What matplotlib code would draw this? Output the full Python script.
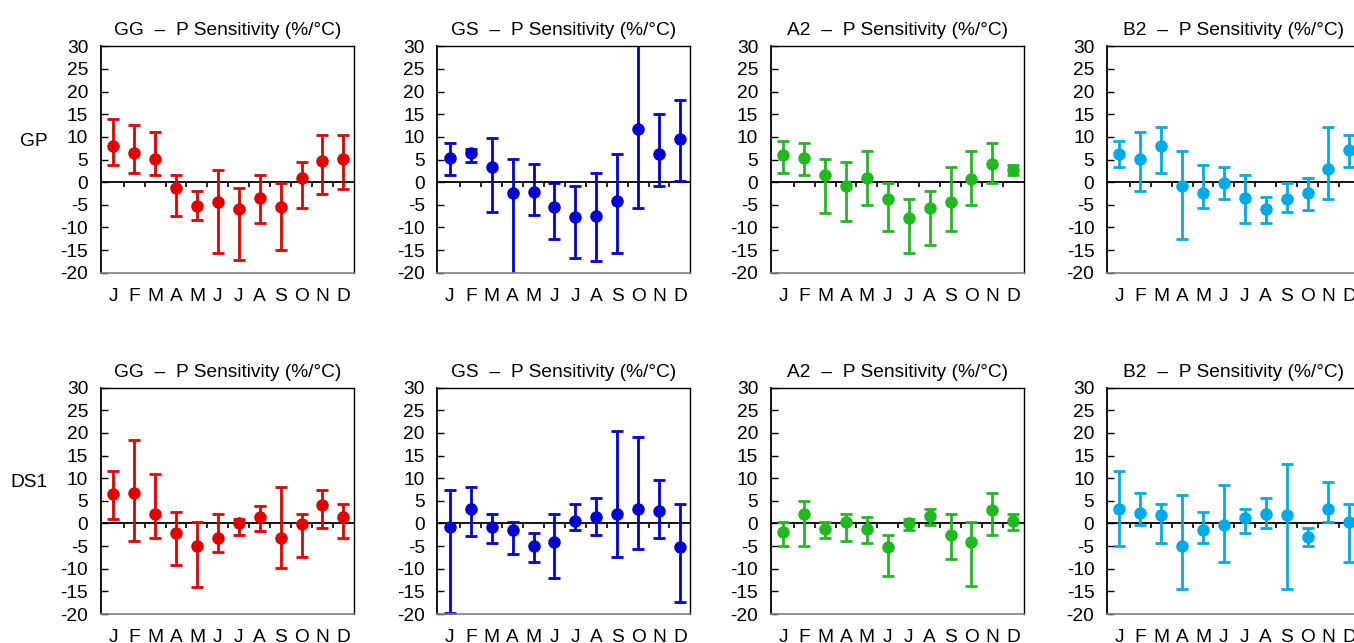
import numpy as np
import matplotlib
matplotlib.use("Agg")
import matplotlib.pyplot as plt

plt.rcParams['font.family'] = ['Liberation Sans', 'DejaVu Sans']
plt.rcParams['axes.unicode_minus'] = False

months = ["J", "F", "M", "A", "M", "J", "J", "A", "S", "O", "N", "D"]
models = ["GG", "GS", "A2", "B2"]
rows = ["GP", "DS1"]
colors = ["#e00000", "#0000d0", "#22b822", "#00aae6"]

# GP row: value, upper, lower
gp_gg_val = [8.0, 6.5, 5.1, -1.2, -5.3, -4.4, -5.9, -3.5, -5.5, 0.9, 4.7, 5.1]
gp_gg_hi = [14.0, 12.7, 11.0, 1.6, -2.0, 2.7, -1.4, 1.6, -0.2, 4.5, 10.4, 10.4]
gp_gg_lo = [3.9, 2.1, 1.6, -7.4, -8.4, -15.6, -17.3, -9.1, -15.0, -5.6, -2.6, -1.5]

gp_gs_val = [5.3, 6.4, 3.3, -2.5, -2.1, -5.4, -7.6, -7.5, -4.2, 11.7, 6.2, 9.5]
gp_gs_hi = [8.6, 7.4, 9.8, 5.1, 4.0, -0.2, -0.8, 2.1, 6.2, 32.0, 15.1, 18.2]
gp_gs_lo = [1.5, 4.4, -6.7, -20.9, -7.3, -12.6, -16.7, -17.4, -15.6, -5.6, -0.8, 0.3]

gp_a2_val = [5.9, 5.4, 1.5, -0.8, 0.9, -3.8, -8.0, -5.7, -4.4, 0.6, 4.1, 2.7]
gp_a2_hi = [9.2, 8.6, 5.1, 4.4, 6.8, -0.2, -3.8, -2.0, 3.3, 6.8, 8.6, 3.9]
gp_a2_lo = [2.1, 1.5, -6.9, -8.5, -5.0, -10.8, -15.7, -13.9, -10.8, -5.0, -0.2, 1.5]

gp_b2_val = [6.2, 5.2, 7.9, -0.8, -2.3, -0.2, -3.6, -5.9, -3.8, -2.5, 2.8, 7.1]
gp_b2_hi = [9.2, 11.0, 12.1, 6.8, 3.9, 3.3, 1.5, -3.2, -0.2, 0.9, 12.1, 10.4]
gp_b2_lo = [3.3, -2.0, 2.1, -12.6, -5.6, -3.8, -9.1, -9.1, -6.7, -6.1, -3.8, 3.3]

# DS1 row
ds_gg_val = [6.5, 6.8, 2.1, -2.1, -4.9, -3.3, 0.0, 1.5, -3.3, -0.2, 4.0, 1.5]
ds_gg_hi = [11.5, 18.5, 10.9, 2.6, 0.3, 2.1, 0.9, 3.8, 8.1, 2.1, 7.4, 4.4]
ds_gg_lo = [1.0, -3.9, -3.3, -9.2, -14.0, -6.2, -2.6, -1.6, -9.9, -7.5, -1.0, -3.3]

ds_gs_val = [-0.7, 3.2, -0.7, -1.5, -4.9, -4.2, 0.6, 1.5, 2.2, 3.2, 2.8, -5.3]
ds_gs_hi = [7.4, 8.1, 2.1, 0.3, -2.1, 2.1, 4.4, 5.6, 20.4, 19.1, 9.7, 4.4]
ds_gs_lo = [-19.7, -2.7, -4.4, -6.8, -8.6, -12.1, -1.5, -2.6, -7.4, -5.7, -3.3, -17.4]

ds_a2_val = [-1.8, 2.1, -1.3, 0.3, -1.3, -5.3, 0.0, 1.7, -2.5, -4.1, 2.9, 0.6]
ds_a2_hi = [0.3, 5.0, 0.3, 2.1, 1.5, -2.6, 0.9, 3.2, 2.1, 0.3, 6.8, 2.1]
ds_a2_lo = [-5.0, -5.0, -3.2, -3.8, -4.4, -11.5, -1.5, -0.4, -7.9, -13.8, -2.6, -1.5]

ds_b2_val = [3.2, 2.4, 1.8, -5.0, -1.5, -0.3, 1.1, 2.1, 1.8, -2.9, 3.2, 0.3]
ds_b2_hi = [11.5, 6.8, 4.4, 6.2, 2.6, 8.5, 3.2, 5.6, 13.2, -1.0, 9.1, 4.4]
ds_b2_lo = [-5.0, -0.4, -4.4, -14.4, -4.4, -8.5, -2.1, -0.9, -14.4, -5.0, 0.3, -8.5]

data = [
    [(gp_gg_val, gp_gg_hi, gp_gg_lo), (gp_gs_val, gp_gs_hi, gp_gs_lo),
     (gp_a2_val, gp_a2_hi, gp_a2_lo), (gp_b2_val, gp_b2_hi, gp_b2_lo)],
    [(ds_gg_val, ds_gg_hi, ds_gg_lo), (ds_gs_val, ds_gs_hi, ds_gs_lo),
     (ds_a2_val, ds_a2_hi, ds_a2_lo), (ds_b2_val, ds_b2_hi, ds_b2_lo)],
]

fig = plt.figure(figsize=(13.54, 6.43), dpi=100)

lefts = [0.0744, 0.3230, 0.5692, 0.8174]
bottoms = [0.5759, 0.0451]
w, h = 0.1869, 0.352
x = np.arange(1, 13)

for r in range(2):
    for c in range(4):
        ax = fig.add_axes([lefts[c], bottoms[r], w, h])
        val, hi, lo = [np.array(a) for a in data[r][c]]
        ax.errorbar(x, val, yerr=[val - lo, hi - val], fmt='o', color=colors[c],
                    ms=8, elinewidth=2, capsize=4.5, capthick=2)
        # zero line with small ticks between months
        ax.axhline(0, color='black', lw=1.3, zorder=1)
        ax.vlines(np.arange(1.5, 12), -1.0, 0, color='black', lw=1.2, zorder=1)
        ax.set_xlim(0.4, 12.5)
        ax.set_ylim(-20, 30)
        ax.set_yticks(np.arange(-20, 31, 5))
        ax.set_xticks(x)
        ax.set_xticklabels(months)
        ax.tick_params(axis='y', direction='in', length=5, width=1, pad=9, labelsize=13.8)
        ax.tick_params(axis='x', length=0, pad=11, labelsize=13.8)
        for s in ['top', 'right', 'left']:
            ax.spines[s].set_color('black')
            ax.spines[s].set_linewidth(1)
        ax.spines['left'].set_linewidth(1.3)
        ax.spines['bottom'].set_color('#808080')
        ax.spines['bottom'].set_linewidth(1.2)
        ax.set_title(models[c] + "  \u2013  P Sensitivity (%/\u00b0C)", fontsize=13.8, pad=8)
        if c == 0:
            ax.text(-0.21, 0.58, rows[r], transform=ax.transAxes, fontsize=13.8,
                    ha='right', va='center')

fig.savefig("out.png", dpi=100)
